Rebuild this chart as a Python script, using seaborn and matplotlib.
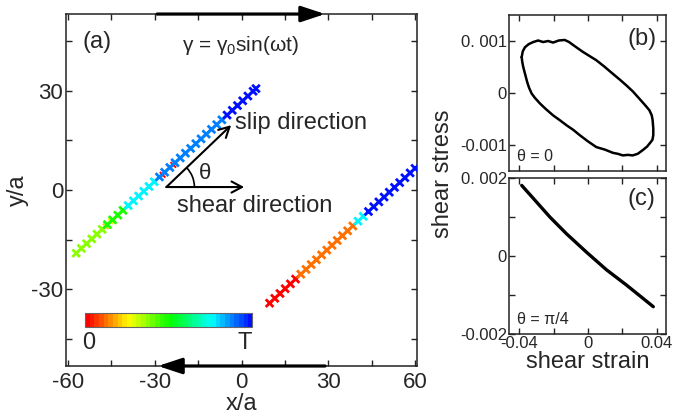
import numpy as np
import pandas as pd
import matplotlib
matplotlib.use("Agg")
import matplotlib.pyplot as plt
import seaborn as sns
from matplotlib.colors import ListedColormap
from matplotlib.patches import FancyArrowPatch, Arc, Rectangle

# ---------------- data ----------------
# panel (a): dislocation line 1 (x/a, y/a, time fraction t in [0,1])
line1_x = [-57.2, -55.4, -53.6, -51.8, -50.0, -48.2, -46.4, -44.6, -42.8, -41.0,
           -39.2, -37.4, -35.6, -33.8, -32.0, -30.2, -28.4, -26.6, -24.8, -23.0,
           -21.2, -19.4, -17.6, -15.8, -14.0, -12.2, -10.4, -8.6, -6.8, -5.0,
           -3.2, -1.4, 0.4, 2.2, 4.0, 5.0]
line1_y = [-19.1, -17.66, -16.22, -14.78, -13.34, -11.9, -10.46, -9.02, -7.58, -6.14,
           -4.7, -3.26, -1.82, -0.38, 1.06, 2.5, 3.94, 5.38, 6.82, 8.26,
           9.7, 11.14, 12.58, 14.02, 15.46, 16.9, 18.34, 19.78, 21.22, 22.66,
           24.1, 25.54, 26.98, 28.42, 29.86, 30.66]
line1_t = [0.375, 0.375, 0.375, 0.375, 0.375, 0.375, 0.48, 0.48, 0.48, 0.48,
           0.75, 0.75, 0.75, 0.75, 0.75, 0.75, 0.875, 0.875, 0.875, 0.875,
           0.875, 0.875, 0.875, 0.875, 0.875, 0.875, 0.875, 0.875, 0.875, 0.98,
           0.98, 0.98, 0.98, 0.98, 0.98, 0.98]
# faint earlier-time markers mostly hidden under line 1
under_x = [-47.0, -45.2, -27.3, -23.6]
under_y = [-11.0, -9.5, 4.6, 7.6]
under_t = [0.2, 0.25, 0.0, 0.0]
# panel (a): dislocation line 2
line2_x = [9.7, 11.5, 13.3, 15.1, 16.9, 18.7, 20.5, 22.3, 24.1, 25.9,
           27.7, 29.5, 31.3, 33.1, 34.9, 36.7, 38.5, 40.3, 42.1, 43.9,
           45.7, 47.5, 49.3, 51.1, 52.9, 54.7, 56.5, 58.3, 60.0]
line2_y = [-34.2, -32.74, -31.28, -29.83, -28.37, -26.91, -25.45, -23.99, -22.54, -21.08,
           -19.62, -18.16, -16.70, -15.25, -13.79, -12.33, -10.87, -9.41, -7.95, -6.5,
           -5.04, -3.58, -2.12, -0.66, 0.8, 2.25, 3.71, 5.17, 6.55]
line2_t = [0.0, 0.0, 0.0, 0.0, 0.0, 0.0, 0.125, 0.125, 0.125, 0.125,
           0.125, 0.125, 0.125, 0.125, 0.125, 0.125, 0.125, 0.75, 0.75, 0.98,
           0.98, 0.98, 0.98, 0.98, 0.98, 0.98, 0.98, 0.98, 0.98]

# panel (b): hysteresis loop, theta = 0
loop_strain = [-0.0386, -0.0380, -0.0367, -0.0345, -0.0319, -0.0290, -0.0261, -0.0232,
               -0.0203, -0.0170, -0.0135, -0.0110, -0.0085, -0.0055, -0.0029, 0.0010,
               0.0049, 0.0095, 0.0145, 0.0185, 0.0223, 0.0262, 0.0300, 0.0335,
               0.0358, 0.0372, 0.0377, 0.0381, 0.0381, 0.0376, 0.0367, 0.0345,
               0.0319, 0.0290, 0.0261, 0.0232, 0.0203, 0.0175, 0.0145, 0.0100,
               0.0049, 0.0000, -0.0048, -0.0085, -0.0125, -0.0165, -0.0203, -0.0245,
               -0.0280, -0.0310, -0.0328, -0.0343, -0.0354, -0.0366, -0.0377, -0.0383,
               -0.0386]
loop_stress = [0.00069, 0.00080, 0.00088, 0.00094, 0.00098, 0.00101, 0.00098, 0.00100,
               0.00097, 0.00101, 0.00102, 0.00098, 0.00092, 0.00085, 0.00079, 0.00071,
               0.00063, 0.00051, 0.00037, 0.00026, 0.00015, 0.00003, -0.00011, -0.00024,
               -0.00033, -0.00043, -0.00052, -0.00068, -0.00081, -0.00090, -0.00094, -0.00103,
               -0.00110, -0.00117, -0.00120, -0.00119, -0.00120, -0.00117, -0.00115, -0.00109,
               -0.00104, -0.00093, -0.00081, -0.00071, -0.00062, -0.00052, -0.00043, -0.00031,
               -0.00020, -0.00009, -0.00001, 0.00010, 0.00021, 0.00036, 0.00050, 0.00060,
               0.00069]

# panel (c): theta = pi/4
lin_strain = [-0.0386, -0.0319, -0.0222, -0.0125, -0.0009, 0.0107, 0.0223, 0.0319, 0.0381]
lin_stress = [0.00181, 0.00148, 0.00100, 0.00057, 0.00010, -0.00035, -0.00074, -0.00108, -0.00130]

# ticks / labels
a_ticks = [-60, -30, 0, 30, 60]
a_yticks = [-30, 0, 30]
b_yticks = [-0.001, 0, 0.001]
b_yticklabels = ["-0.001", "0", "0. 001"]
c_yticks = [-0.002, 0, 0.002]
c_yticklabels = ["-0.002", "0", "0. 002"]
bc_xticks = [-0.04, 0, 0.04]
bc_xticklabels = ["-0.04", "0", "0.04"]
cbar_labels = ["0", "T"]

# ---------------- style ----------------
sns.set_style("ticks")
plt.rcParams["font.family"] = ["Liberation Sans", "DejaVu Sans"]
plt.rcParams["mathtext.fontset"] = "custom"
plt.rcParams["mathtext.rm"] = "Liberation Sans"
plt.rcParams["mathtext.it"] = "Liberation Sans"
plt.rcParams["axes.edgecolor"] = "#222222"
plt.rcParams["axes.linewidth"] = 1.1
plt.rcParams["axes.unicode_minus"] = False

fig = plt.figure(figsize=(6.9, 4.18), dpi=100)
axa = fig.add_axes([0.0957, 0.1244, 0.5087, 0.842])
axb = fig.add_axes([0.7377, 0.5909, 0.2275, 0.3732])
axc = fig.add_axes([0.7377, 0.201, 0.2275, 0.3732])

cmap = ListedColormap(plt.cm.hsv(np.linspace(0, 0.667, 36)))

# ---------------- panel (a) ----------------
df_under = pd.DataFrame({"x": under_x, "y": under_y, "t": under_t})
df_lines = pd.DataFrame({"x": line1_x + line2_x, "y": line1_y + line2_y,
                         "t": line1_t + line2_t})
sns.scatterplot(data=df_under, x="x", y="y", hue="t", palette=cmap, hue_norm=(0, 1),
                marker="x", s=16, linewidth=1.4, legend=False, ax=axa, zorder=3)
sns.scatterplot(data=df_lines, x="x", y="y", hue="t", palette=cmap, hue_norm=(0, 1),
                marker="x", s=30, linewidth=2.0, legend=False, ax=axa, zorder=3)

# colour bar drawn inside the panel
grad = np.linspace(0, 1, 36)[None, :]
axa.imshow(grad, cmap=cmap, extent=(-54.1, 3.7, -41.4, -37.2), aspect="auto",
           interpolation="nearest", zorder=2)
axa.add_patch(Rectangle((-54.1, -41.4), 57.8, 4.2, fill=False, ec="#666666", lw=0.8, zorder=3))
axa.text(-52.7, -43.0, cbar_labels[0], fontsize=17, ha="center", va="top")
axa.text(1.2, -43.0, cbar_labels[1], fontsize=17, ha="center", va="top")

axa.set_xlim(-60.7, 60.7)
axa.set_ylim(-53.2, 53.2)
axa.set_xticks(a_ticks)
axa.set_xticks([-45, -15, 15, 45], minor=True)
axa.set_yticks(a_yticks)
axa.set_yticks([-45, -15, 15, 45], minor=True)
axa.set_xlabel("x/a", fontsize=17)
axa.set_ylabel("y/a", fontsize=17)
axa.xaxis.set_label_coords(0.5, -0.078)
axa.yaxis.set_label_coords(-0.105, 0.5)

# shear arrows on the top and bottom boundaries
for (x0, y0, x1, y1) in [(-29.2, 53.2, 28.9, 53.2), (28.9, -53.2, -28.9, -53.2)]:
    axa.add_patch(FancyArrowPatch((x0, y0), (x1, y1),
                                  arrowstyle="-|>,head_length=1.45,head_width=0.48",
                                  mutation_scale=10, lw=2.3, color="black",
                                  shrinkA=0, shrinkB=0, clip_on=False, zorder=5))

# slip / shear direction arrows
orig = (-26.0, 0.9)
axa.annotate("", xy=(-3.6, 19.6), xytext=orig,
             arrowprops=dict(arrowstyle="->,head_length=0.75,head_width=0.4",
                             mutation_scale=10, lw=1.5, color="black",
                             shrinkA=0, shrinkB=0))
axa.annotate("", xy=(0.9, 0.9), xytext=orig,
             arrowprops=dict(arrowstyle="->,head_length=0.75,head_width=0.4",
                             mutation_scale=10, lw=1.5, color="black",
                             shrinkA=0, shrinkB=0))
axa.add_patch(Arc(orig, 19.4, 16.9, theta1=0, theta2=39.7, lw=1.2, color="black"))
axa.text(-12.6, 5.1, "θ", fontsize=16, ha="center", va="center")
axa.text(-2.4, 20.2, "slip direction", fontsize=17, ha="left", va="center")
axa.text(4.7, -4.8, "shear direction", fontsize=17, ha="center", va="center")
axa.text(-50.0, 44.7, "(a)", fontsize=17, ha="center", va="center")
axa.text(-0.5, 43.8, "γ = γ$_0$sin(ωt)", fontsize=15, ha="center", va="center")

# ---------------- panel (b) ----------------
sns.lineplot(x=loop_strain, y=loop_stress, sort=False, estimator=None,
             color="black", lw=1.8, ax=axb)
axb.set_xlim(-0.046, 0.0455)
axb.set_ylim(-0.0015, 0.0015)
axb.set_xticks(bc_xticks)
axb.set_xticks([-0.02, 0.02], minor=True)
axb.set_xticklabels([])
axb.set_yticks(b_yticks)
axb.set_yticklabels(b_yticklabels)
axb.text(0.845, 0.846, "(b)", transform=axb.transAxes, fontsize=17, ha="center", va="center")
axb.text(0.05, 0.092, "θ = 0", transform=axb.transAxes, fontsize=11.5, ha="left", va="center")

# ---------------- panel (c) ----------------
sns.lineplot(x=lin_strain, y=lin_stress, sort=False, estimator=None,
             color="black", lw=2.4, ax=axc)
axc.set_xlim(-0.046, 0.0455)
axc.set_ylim(-0.002, 0.002)
axc.set_xticks(bc_xticks)
axc.set_xticks([-0.02, 0.02], minor=True)
axc.set_xticklabels(bc_xticklabels)
axc.set_yticks(c_yticks)
axc.set_yticks([-0.001, 0.001], minor=True)
axc.set_yticklabels(c_yticklabels)
axc.set_xlabel("shear strain", fontsize=17)
axc.xaxis.set_label_coords(0.5, -0.108)
axc.text(0.845, 0.865, "(c)", transform=axc.transAxes, fontsize=17, ha="center", va="center")
axc.text(0.05, 0.09, "θ = π/4", transform=axc.transAxes, fontsize=11.5, ha="left", va="center")

fig.text(443 / 690, 1 - 174 / 418, "shear stress", fontsize=17, rotation=90,
         ha="center", va="center")

for ax in (axa, axb, axc):
    ax.tick_params(which="both", direction="in", top=True, right=True,
                   length=4, width=1, color="#222222")
axa.tick_params(which="major", labelsize=16)
axa.tick_params(axis="y", pad=2)
axa.tick_params(axis="x", pad=4)
for ax in (axb, axc):
    ax.tick_params(which="major", labelsize=12, pad=1.5)
axb.set_ylabel("")
axb.set_xlabel("")
axc.set_ylabel("")

fig.savefig("out.png", dpi=100)
